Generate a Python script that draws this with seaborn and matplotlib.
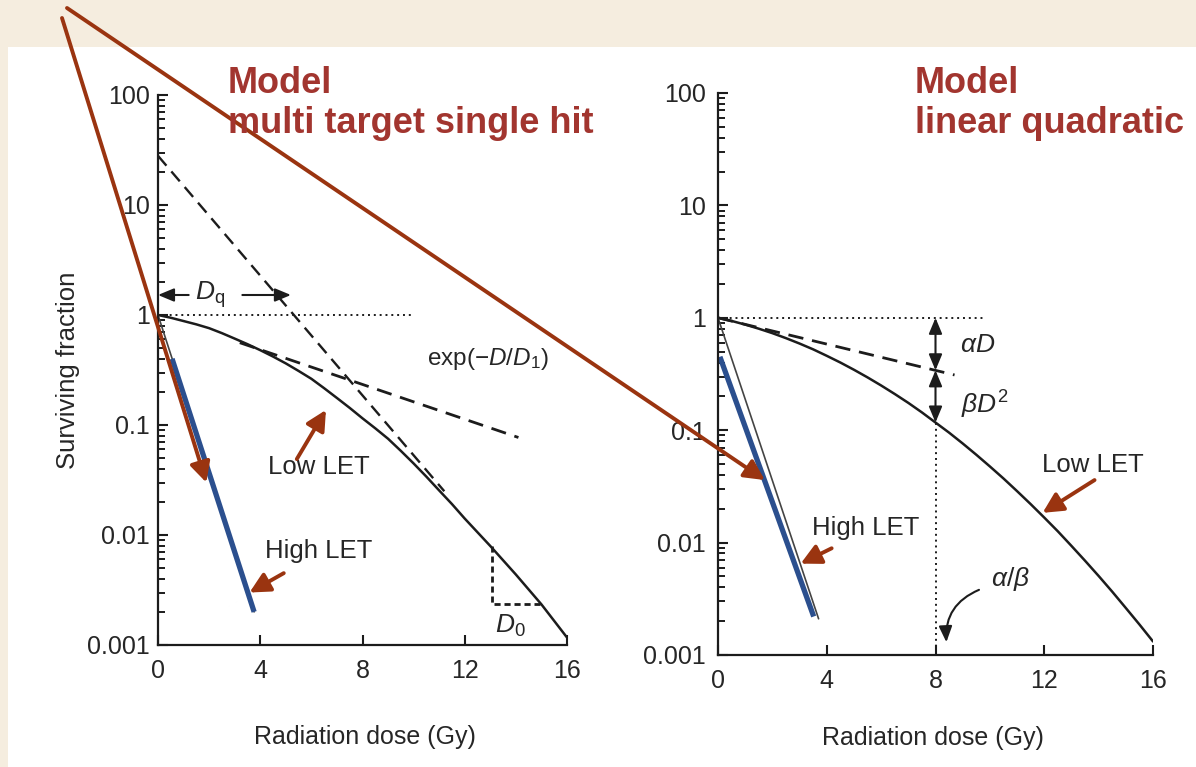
import matplotlib
matplotlib.use("Agg")
import matplotlib.pyplot as plt
import seaborn as sns
from matplotlib.patches import Rectangle
from matplotlib.ticker import FixedLocator, FixedFormatter, LogLocator, NullFormatter

# ------------------------------------------------------------------ data
dose_ticks = [0, 4, 8, 12, 16]
dose_tick_labels = ["0", "4", "8", "12", "16"]
sf_ticks = [0.001, 0.01, 0.1, 1, 10, 100]
sf_tick_labels = ["0.001", "0.01", "0.1", "1", "10", "100"]

# left panel: multi-target single-hit model
mt_dose = [0, 0.5, 1, 1.5, 2, 2.5, 3, 3.5, 4, 4.5, 5, 5.5, 6, 6.5, 7, 7.5, 8, 8.5,
           9, 9.5, 10, 10.5, 11, 11.5, 12, 13, 14, 15, 16]
mt_low_let = [1.0, 0.944, 0.881, 0.822, 0.759, 0.684, 0.610, 0.543, 0.479, 0.419,
              0.363, 0.310, 0.263, 0.216, 0.176, 0.143, 0.115, 0.0933, 0.0750, 0.0582,
              0.0447, 0.0339, 0.0254, 0.0191, 0.0141, 0.00794, 0.00437, 0.00234, 0.00117]
mt_high_dose = [0, 3.76]
mt_high_let = [1.0, 0.0020]
mt_blue_dose = [0.55, 3.76]
mt_blue_sf = [0.40, 0.0020]
mt_exp_dose = [3.2, 14.1]
mt_exp_sf = [0.56, 0.077]
mt_extrap_dose = [0, 11.2]
mt_extrap_sf = [28.0, 0.025]
mt_unity_dose = [0, 9.9]
mt_unity_sf = [1.0, 1.0]
mt_d0_dose = [13.06, 13.06, 14.96]
mt_d0_sf = [0.0079, 0.00234, 0.00234]
mt_dq = 5.2

# right panel: linear-quadratic model
lq_dose = [0, 0.5, 1, 1.5, 2, 2.5, 3, 3.5, 4, 4.5, 5, 5.5, 6, 6.5, 7, 7.5, 8, 8.5,
           9, 9.5, 10, 10.5, 11, 11.5, 12, 12.5, 13, 13.5, 14, 14.5, 15, 15.5, 16]
lq_low_let = [1.0, 0.938, 0.870, 0.800, 0.730, 0.659, 0.590, 0.524, 0.459, 0.400,
              0.345, 0.295, 0.250, 0.210, 0.175, 0.144, 0.117, 0.0951, 0.0762, 0.0605,
              0.0476, 0.0372, 0.0287, 0.0220, 0.0167, 0.0126, 0.00935, 0.0069, 0.00505,
              0.00366, 0.00262, 0.00187, 0.00132]
lq_high_dose = [0, 3.7]
lq_high_let = [1.0, 0.0021]
lq_blue_dose = [0.07, 3.52]
lq_blue_sf = [0.45, 0.0022]
lq_alpha_dose = [0, 8.7]
lq_alpha_sf = [1.0, 0.31]
lq_unity_dose = [0, 9.8]
lq_unity_sf = [1.0, 1.0]
lq_ab_dose = 8
lq_ab_alpha_sf = 0.341
lq_ab_curve_sf = 0.117

# ------------------------------------------------------------------ style
sns.set_theme(style="ticks")
plt.rcParams["font.family"] = ["Liberation Sans", "DejaVu Sans"]
plt.rcParams["mathtext.fontset"] = "custom"
plt.rcParams["mathtext.rm"] = "Liberation Sans"
plt.rcParams["mathtext.it"] = "Liberation Sans:italic"
plt.rcParams["mathtext.bf"] = "Liberation Sans:bold"

W, H = 1196, 767
BEIGE = "#F5EDDF"
RED = "#9A3410"
TITLE_RED = "#A2352F"
BLUE = "#2B4F8E"
INK = "#1c1c1c"
TXT = "#262626"

fig = plt.figure(figsize=(W / 100, H / 100), dpi=100, facecolor=BEIGE)
fig.patches.append(Rectangle((8 / W, 0), 1 - 8 / W, 1 - 47 / H, transform=fig.transFigure,
                             facecolor="white", edgecolor="none", zorder=-10))

ax1 = fig.add_axes([158 / W, (H - 645) / H, 409 / W, 550 / H])
ax2 = fig.add_axes([718 / W, (H - 655) / H, 435 / W, 562 / H])

dash = (0, (5.5, 3.2))
dot = (0, (1, 2.0))


def line(ax, x, y, **kw):
    sns.lineplot(x=x, y=y, ax=ax, estimator=None, sort=False, **kw)


for ax, pad_y in ((ax1, 6), (ax2, 9)):
    ax.set_facecolor("none")
    ax.set_yscale("log")
    ax.set_xlim(0, 16)
    ax.set_ylim(0.001, 100)
    for s in ("top", "right"):
        ax.spines[s].set_visible(False)
    for s in ("left", "bottom"):
        ax.spines[s].set_linewidth(1.6)
        ax.spines[s].set_color(INK)
    ax.xaxis.set_major_locator(FixedLocator(dose_ticks))
    ax.xaxis.set_major_formatter(FixedFormatter(dose_tick_labels))
    ax.yaxis.set_major_locator(FixedLocator(sf_ticks))
    ax.yaxis.set_major_formatter(FixedFormatter(sf_tick_labels))
    ax.yaxis.set_minor_locator(LogLocator(base=10, subs=range(2, 10), numticks=20))
    ax.yaxis.set_minor_formatter(NullFormatter())
    ax.tick_params(axis="both", which="major", direction="in", length=7, width=1.5,
                   color=INK, labelsize=18, labelcolor=TXT)
    ax.tick_params(axis="y", which="minor", direction="in", length=5, width=1.4, color=INK)
    ax.tick_params(axis="y", which="major", pad=pad_y)
    ax.tick_params(axis="x", which="major", pad=10)
    ax.set_xlabel("Radiation dose (Gy)", fontsize=18, color=TXT)
    ax.set_ylabel("")

ax1.xaxis.set_label_coords(0.506, -0.145)
ax2.xaxis.set_label_coords(0.494, -0.127)
ax1.set_ylabel("Surviving fraction", fontsize=18.5, color=TXT)
ax1.yaxis.set_label_coords(-0.19, 0.5)

# ------------------------------------------------------------------ left panel
line(ax1, mt_unity_dose, mt_unity_sf, color=INK, lw=1.4, linestyle=dot)
line(ax1, mt_extrap_dose, mt_extrap_sf, color=INK, lw=1.7, linestyle=dash)
line(ax1, mt_exp_dose, mt_exp_sf, color=INK, lw=2.0, linestyle=dash)
line(ax1, mt_dose, mt_low_let, color=INK, lw=1.8)
line(ax1, mt_d0_dose, mt_d0_sf, color=INK, lw=2.0, linestyle=(0, (2.2, 1.4)))
line(ax1, mt_high_dose, mt_high_let, color="#444444", lw=1.2)
line(ax1, mt_blue_dose, mt_blue_sf, color=BLUE, lw=3.8, solid_capstyle="butt")

black_arrow = dict(arrowstyle="-|>,head_length=0.6,head_width=0.25", color=INK, lw=1.5,
                   shrinkA=0, shrinkB=0, mutation_scale=16)
ax1.annotate("", xy=(0, 1.52), xytext=(1.2, 1.52), arrowprops=black_arrow)
ax1.annotate("", xy=(mt_dq, 1.52), xytext=(3.3, 1.52), arrowprops=black_arrow)
ax1.text(2.05, 1.52, r"$D_{\mathrm{q}}$", fontsize=19, color=TXT, ha="center", va="center")
ax1.text(12.9, 0.40, r"exp(−$D/D_1$)", fontsize=17.5, color=TXT, ha="center", va="center")
ax1.text(13.8, 0.00150, r"$D_0$", fontsize=19, color=TXT, ha="center", va="center")
ax1.text(6.3, 0.0415, "Low LET", fontsize=18.5, color=TXT, ha="center", va="center")
ax1.text(6.3, 0.0071, "High LET", fontsize=18.5, color=TXT, ha="center", va="center")

# ------------------------------------------------------------------ right panel
line(ax2, lq_unity_dose, lq_unity_sf, color=INK, lw=1.4, linestyle=dot)
line(ax2, lq_alpha_dose, lq_alpha_sf, color=INK, lw=2.0, linestyle=dash)
line(ax2, lq_dose, lq_low_let, color=INK, lw=1.8)
line(ax2, [lq_ab_dose, lq_ab_dose], [lq_ab_curve_sf, 0.001], color=INK, lw=1.4, linestyle=dot)
line(ax2, lq_high_dose, lq_high_let, color="#444444", lw=1.2)
line(ax2, lq_blue_dose, lq_blue_sf, color=BLUE, lw=3.8, solid_capstyle="butt")

dbl = dict(arrowstyle="<|-|>,head_length=0.6,head_width=0.25", color=INK, lw=1.5,
           shrinkA=0, shrinkB=0, mutation_scale=16)
ax2.annotate("", xy=(lq_ab_dose, 1.0), xytext=(lq_ab_dose, lq_ab_alpha_sf), arrowprops=dbl)
ax2.annotate("", xy=(lq_ab_dose, lq_ab_alpha_sf), xytext=(lq_ab_dose, lq_ab_curve_sf), arrowprops=dbl)
ax2.text(9.55, 0.575, r"$\alpha D$", fontsize=19, color=TXT, ha="center", va="center")
ax2.text(9.8, 0.168, r"$\beta D^{\mathrm{2}}$", fontsize=19, color=TXT, ha="center", va="center")
ax2.text(10.75, 0.0047, r"$\alpha/\beta$", fontsize=19, color=TXT, ha="center", va="center")
ax2.annotate("", xy=(8.4, 0.0013), xytext=(9.6, 0.0038),
             arrowprops=dict(arrowstyle="-|>,head_length=0.6,head_width=0.25", color=INK, lw=1.5,
                             shrinkA=0, shrinkB=0, mutation_scale=16,
                             connectionstyle="arc3,rad=0.35"))
ax2.text(13.8, 0.049, "Low LET", fontsize=18.5, color=TXT, ha="center", va="center")
ax2.text(5.42, 0.0135, "High LET", fontsize=18.5, color=TXT, ha="center", va="center")

# ------------------------------------------------------------------ red overlay arrows
red_arrow = dict(arrowstyle="-|>,head_length=0.55,head_width=0.28", color=RED, lw=2.8,
                 shrinkA=0, shrinkB=0, mutation_scale=22)
ax1.annotate("", xy=(6.57, 0.137), xytext=(5.43, 0.049), arrowprops=red_arrow)
ax1.annotate("", xy=(3.58, 0.0030), xytext=(4.92, 0.0045), arrowprops=red_arrow)
ax2.annotate("", xy=(3.04, 0.0065), xytext=(4.18, 0.0089), arrowprops=red_arrow)
ax2.annotate("", xy=(11.94, 0.0184), xytext=(13.85, 0.036), arrowprops=red_arrow)
ax1.annotate("", xy=(1.89, 0.030), xytext=(62 / W, 1 - 18 / H), textcoords="figure fraction",
             arrowprops=red_arrow)
ax2.annotate("", xy=(1.72, 0.036), xytext=(67 / W, 1 - 8 / H), textcoords="figure fraction",
             arrowprops=red_arrow)

# ------------------------------------------------------------------ titles
fig.text(228 / W, 1 - 66 / H, "Model\nmulti target single hit", fontsize=26, fontweight="bold",
         color=TITLE_RED, ha="left", va="top", linespacing=1.2)
fig.text(915 / W, 1 - 66 / H, "Model\nlinear quadratic", fontsize=26, fontweight="bold",
         color=TITLE_RED, ha="left", va="top", linespacing=1.2)

fig.savefig("out.png", dpi=100, facecolor=fig.get_facecolor())
